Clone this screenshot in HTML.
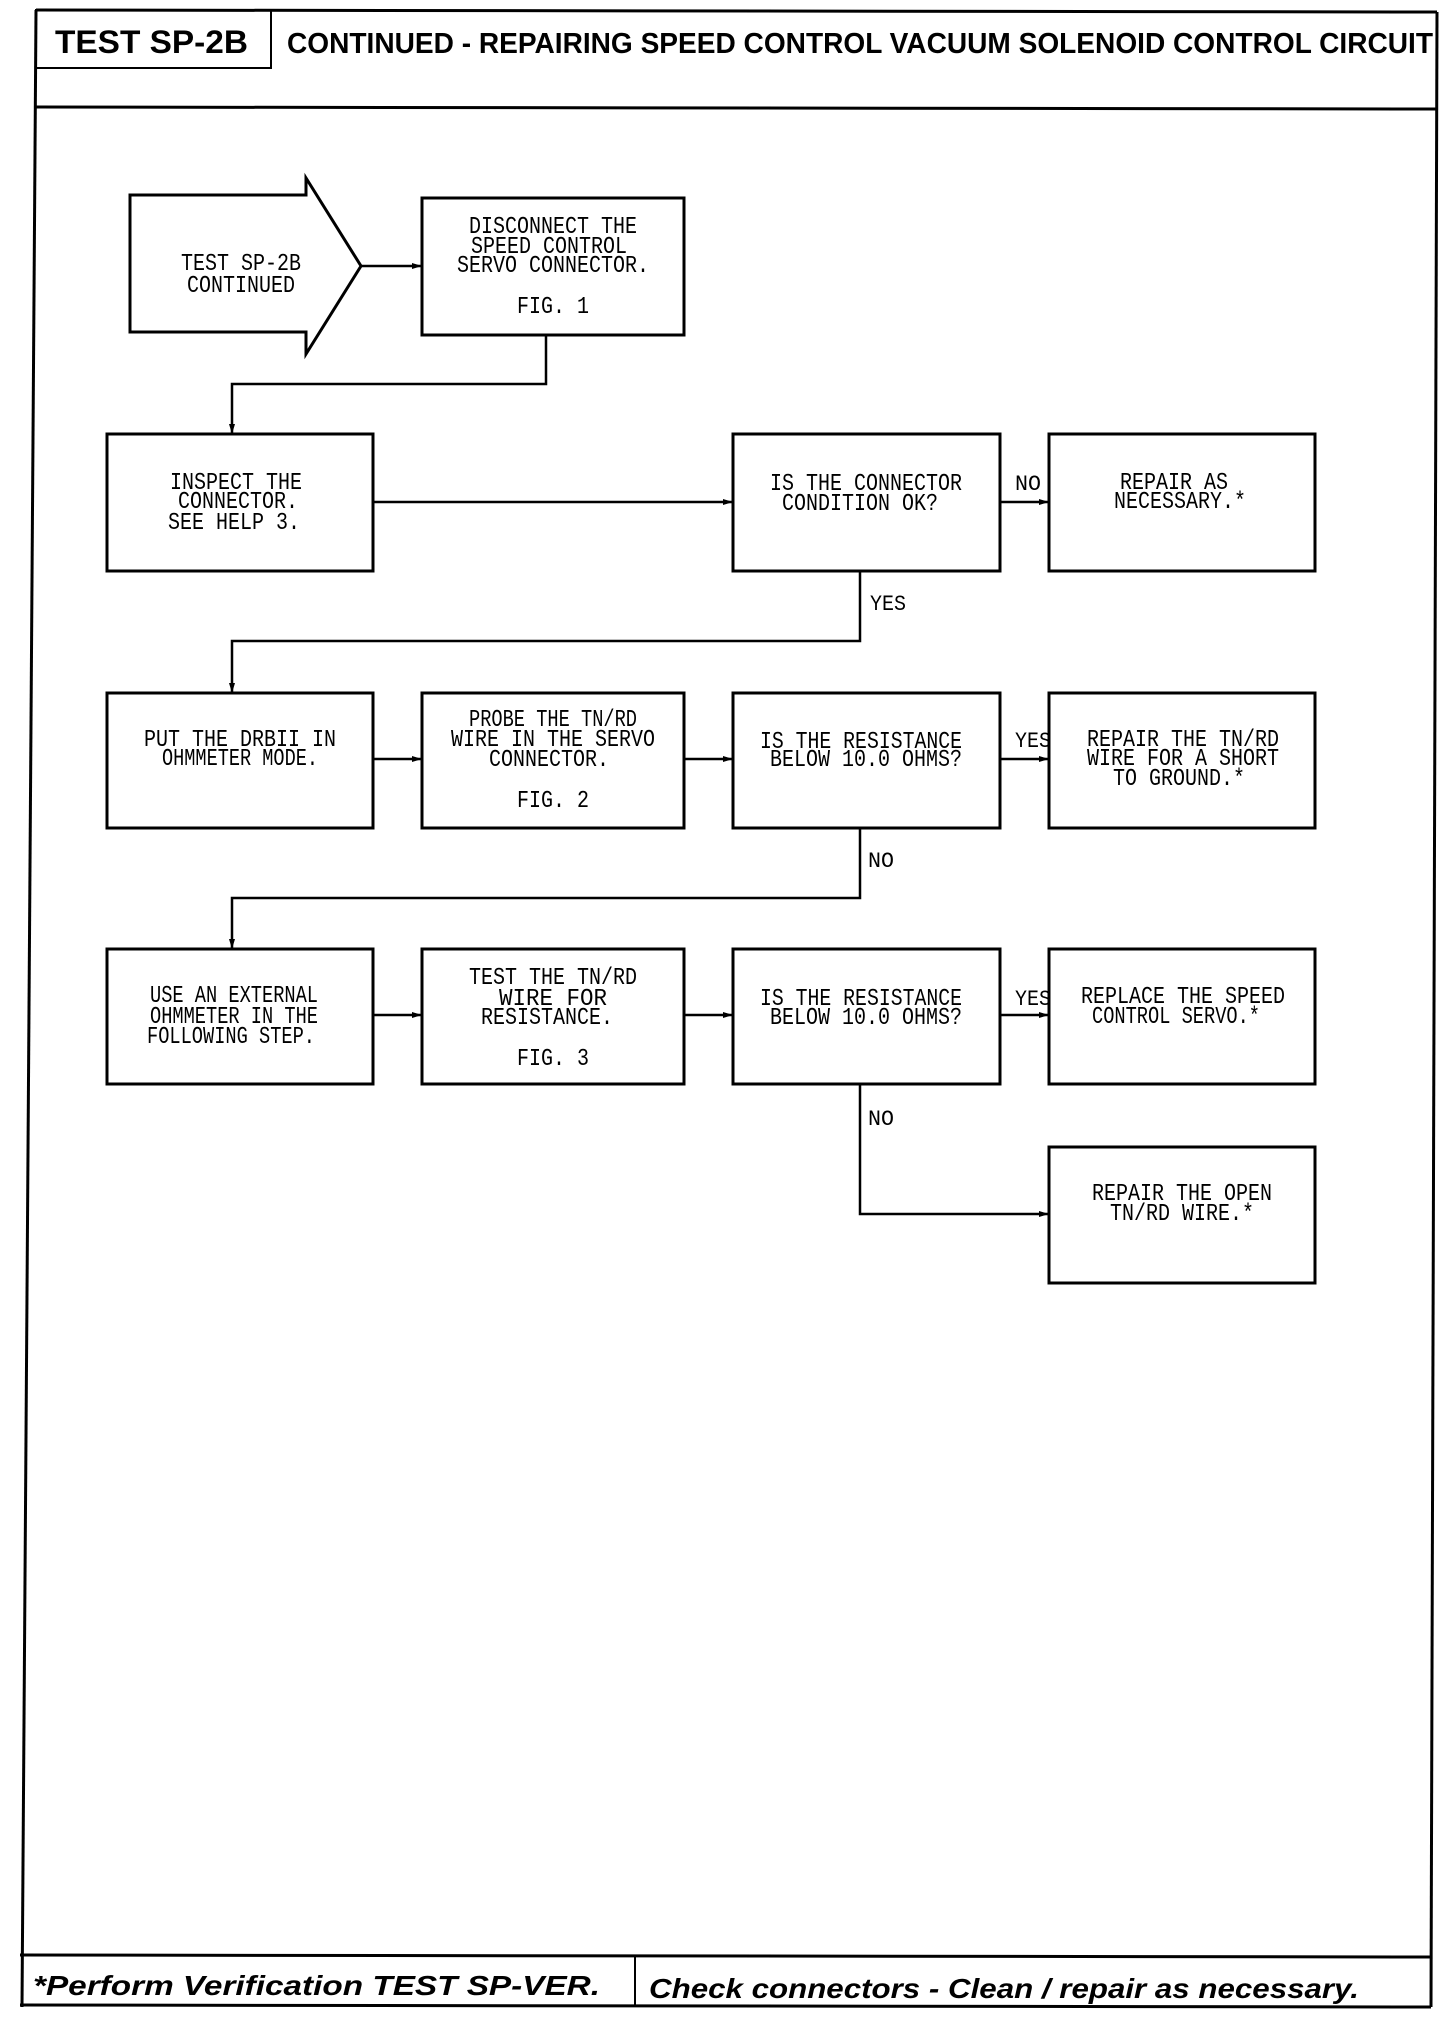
<!DOCTYPE html>
<html><head><meta charset="utf-8"><style>html,body{margin:0;padding:0;background:#fff}svg{display:block}</style></head>
<body>
<svg width="1456" height="2042" viewBox="0 0 1456 2042" xmlns="http://www.w3.org/2000/svg">
<defs>
<marker id="ah" markerWidth="10" markerHeight="8" refX="9" refY="4" orient="auto" markerUnits="userSpaceOnUse">
<path d="M0,1 L10,4 L0,7 Z" fill="#000"/></marker>
</defs>
<g fill="none" stroke="#000" stroke-width="3">
<!-- frame -->
<line x1="36" y1="10" x2="1437" y2="12"/>
<line x1="36" y1="10" x2="22" y2="2007"/>
<line x1="1437" y1="12" x2="1431" y2="2007"/>
<line x1="36" y1="107" x2="1437" y2="109"/>
<rect x="36" y="10" width="235" height="58" stroke-width="2"/>
<line x1="20" y1="1955" x2="1431" y2="1957"/>
<line x1="20" y1="2005" x2="1431" y2="2007"/>
<line x1="635" y1="1956" x2="635" y2="2006" stroke-width="2"/>
<!-- start arrow -->
<path d="M130,195 L306,195 L306,178 L361,266 L306,354 L306,332 L130,332 Z"/>
<!-- boxes -->
<rect x="422" y="198" width="262" height="137"/>
<rect x="107" y="434" width="266" height="137"/>
<rect x="733" y="434" width="267" height="137"/>
<rect x="1049" y="434" width="266" height="137"/>
<rect x="107" y="693" width="266" height="135"/>
<rect x="422" y="693" width="262" height="135"/>
<rect x="733" y="693" width="267" height="135"/>
<rect x="1049" y="693" width="266" height="135"/>
<rect x="107" y="949" width="266" height="135"/>
<rect x="422" y="949" width="262" height="135"/>
<rect x="733" y="949" width="267" height="135"/>
<rect x="1049" y="949" width="266" height="135"/>
<rect x="1049" y="1147" width="266" height="136"/>
</g>
<g fill="none" stroke="#000" stroke-width="2.5" marker-end="url(#ah)">
<line x1="361" y1="266" x2="421" y2="266"/>
<polyline points="546,335 546,384 232,384 232,433"/>
<line x1="373" y1="502" x2="732" y2="502"/>
<line x1="1000" y1="502" x2="1048" y2="502"/>
<polyline points="860,571 860,641 232,641 232,692"/>
<line x1="373" y1="759" x2="421" y2="759"/>
<line x1="684" y1="759" x2="732" y2="759"/>
<line x1="1000" y1="759" x2="1048" y2="759"/>
<polyline points="860,828 860,898 232,898 232,948"/>
<line x1="373" y1="1015" x2="421" y2="1015"/>
<line x1="684" y1="1015" x2="732" y2="1015"/>
<line x1="1000" y1="1015" x2="1048" y2="1015"/>
<polyline points="860,1084 860,1214 1048,1214"/>
</g>
<g font-family="Liberation Sans, sans-serif" font-weight="bold" fill="#000">
<text x="55" y="53" font-size="32" textLength="193" lengthAdjust="spacingAndGlyphs">TEST SP-2B</text>
<text x="287" y="53" font-size="29" textLength="1146" lengthAdjust="spacingAndGlyphs">CONTINUED - REPAIRING SPEED CONTROL VACUUM SOLENOID CONTROL CIRCUIT</text>
<text x="33" y="1995" font-size="28" font-style="italic" textLength="567" lengthAdjust="spacingAndGlyphs">*Perform Verification TEST SP-VER.</text>
<text x="649" y="1998" font-size="28" font-style="italic" textLength="710" lengthAdjust="spacingAndGlyphs">Check connectors - Clean / repair as necessary.</text>
</g>
<g font-family="Liberation Mono, monospace" font-size="24" fill="#000" text-anchor="middle" lengthAdjust="spacingAndGlyphs">
<text x="241" y="270" textLength="120" lengthAdjust="spacingAndGlyphs">TEST SP-2B</text>
<text x="241" y="292" textLength="108" lengthAdjust="spacingAndGlyphs">CONTINUED</text>
<text x="553" y="233" textLength="168" lengthAdjust="spacingAndGlyphs">DISCONNECT THE</text>
<text x="549" y="253" textLength="156" lengthAdjust="spacingAndGlyphs">SPEED CONTROL</text>
<text x="553" y="272" textLength="192" lengthAdjust="spacingAndGlyphs">SERVO CONNECTOR.</text>
<text x="553" y="313" textLength="72" lengthAdjust="spacingAndGlyphs">FIG. 1</text>
<text x="236" y="489" textLength="132" lengthAdjust="spacingAndGlyphs">INSPECT THE</text>
<text x="238" y="508" textLength="120" lengthAdjust="spacingAndGlyphs">CONNECTOR.</text>
<text x="234" y="529" textLength="132" lengthAdjust="spacingAndGlyphs">SEE HELP 3.</text>
<text x="866" y="490" textLength="192" lengthAdjust="spacingAndGlyphs">IS THE CONNECTOR</text>
<text x="860" y="510" textLength="156" lengthAdjust="spacingAndGlyphs">CONDITION OK?</text>
<text x="1174" y="489" textLength="108" lengthAdjust="spacingAndGlyphs">REPAIR AS</text>
<text x="1180" y="508" textLength="132" lengthAdjust="spacingAndGlyphs">NECESSARY.*</text>
<text x="240" y="746" textLength="192" lengthAdjust="spacingAndGlyphs">PUT THE DRBII IN</text>
<text x="240" y="765" textLength="156" lengthAdjust="spacingAndGlyphs">OHMMETER MODE.</text>
<text x="553" y="726" textLength="168" lengthAdjust="spacingAndGlyphs">PROBE THE TN/RD</text>
<text x="553" y="746" textLength="204" lengthAdjust="spacingAndGlyphs">WIRE IN THE SERVO</text>
<text x="549" y="766" textLength="120" lengthAdjust="spacingAndGlyphs">CONNECTOR.</text>
<text x="553" y="807" textLength="72" lengthAdjust="spacingAndGlyphs">FIG. 2</text>
<text x="861" y="748" textLength="202" lengthAdjust="spacingAndGlyphs">IS THE RESISTANCE</text>
<text x="866" y="766" textLength="192" lengthAdjust="spacingAndGlyphs">BELOW 10.0 OHMS?</text>
<text x="1183" y="746" textLength="192" lengthAdjust="spacingAndGlyphs">REPAIR THE TN/RD</text>
<text x="1183" y="765" textLength="192" lengthAdjust="spacingAndGlyphs">WIRE FOR A SHORT</text>
<text x="1179" y="785" textLength="132" lengthAdjust="spacingAndGlyphs">TO GROUND.*</text>
<text x="234" y="1002" textLength="168" lengthAdjust="spacingAndGlyphs">USE AN EXTERNAL</text>
<text x="234" y="1023" textLength="168" lengthAdjust="spacingAndGlyphs">OHMMETER IN THE</text>
<text x="231" y="1043" textLength="168" lengthAdjust="spacingAndGlyphs">FOLLOWING STEP.</text>
<text x="553" y="984" textLength="168" lengthAdjust="spacingAndGlyphs">TEST THE TN/RD</text>
<text x="553" y="1005" textLength="108" lengthAdjust="spacingAndGlyphs">WIRE FOR</text>
<text x="547" y="1024" textLength="132" lengthAdjust="spacingAndGlyphs">RESISTANCE.</text>
<text x="553" y="1065" textLength="72" lengthAdjust="spacingAndGlyphs">FIG. 3</text>
<text x="861" y="1005" textLength="202" lengthAdjust="spacingAndGlyphs">IS THE RESISTANCE</text>
<text x="866" y="1024" textLength="192" lengthAdjust="spacingAndGlyphs">BELOW 10.0 OHMS?</text>
<text x="1183" y="1003" textLength="204" lengthAdjust="spacingAndGlyphs">REPLACE THE SPEED</text>
<text x="1176" y="1023" textLength="168" lengthAdjust="spacingAndGlyphs">CONTROL SERVO.*</text>
<text x="1182" y="1200" textLength="180" lengthAdjust="spacingAndGlyphs">REPAIR THE OPEN</text>
<text x="1182" y="1220" textLength="144" lengthAdjust="spacingAndGlyphs">TN/RD WIRE.*</text>
</g>
<g font-family="Liberation Mono, monospace" font-size="22" fill="#000">
<text x="1015" y="490" textLength="26" lengthAdjust="spacingAndGlyphs">NO</text>
<text x="870" y="610" textLength="36" lengthAdjust="spacingAndGlyphs">YES</text>
<text x="1015" y="747" textLength="36" lengthAdjust="spacingAndGlyphs">YES</text>
<text x="868" y="867" textLength="26" lengthAdjust="spacingAndGlyphs">NO</text>
<text x="1015" y="1005" textLength="36" lengthAdjust="spacingAndGlyphs">YES</text>
<text x="868" y="1125" textLength="26" lengthAdjust="spacingAndGlyphs">NO</text>
</g>
</svg>
</body></html>
